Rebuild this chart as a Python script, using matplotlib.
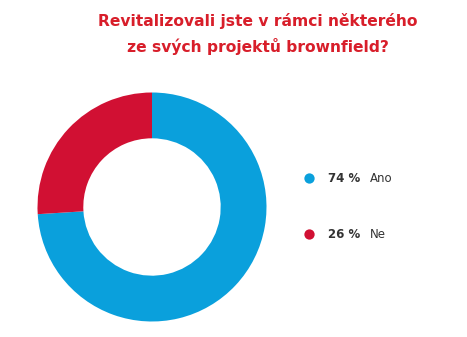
import matplotlib
matplotlib.use("Agg")
import matplotlib.pyplot as plt

labels = ["Ano", "Ne"]
shares = [74, 26]
colors = ["#0AA0DC", "#D11033"]
title = "Revitalizovali jste v rámci některého\nze svých projektů brownfield?"

W, H = 467, 337
fig = plt.figure(figsize=(W / 100, H / 100), dpi=100)
fig.patch.set_facecolor("white")

# donut
cx, cy, r = 152, 207, 114.5
ax = fig.add_axes([(cx - r) / W, 1 - (cy + r) / H, 2 * r / W, 2 * r / H])
ax.pie(shares, colors=colors, startangle=90, counterclock=False,
       radius=1, wedgeprops=dict(width=0.4, edgecolor="none"))
ax.set_xlim(-1, 1)
ax.set_ylim(-1, 1)
ax.set_aspect("equal")
ax.axis("off")

fig.text(258 / W, 1 - 34 / H, title, ha="center", va="center",
         fontsize=11.2, fontweight="bold", color="#D81E2A",
         family="DejaVu Sans", linespacing=1.65)

# legend
ov = fig.add_axes([0, 0, 1, 1], facecolor="none")
ov.set_xlim(0, W)
ov.set_ylim(H, 0)
ov.axis("off")
for i, (lab, val, col) in enumerate(zip(labels, shares, colors)):
    y = 178 + i * 56
    ov.scatter([309], [y], s=55, color=col, linewidths=0)
    ov.text(328, y, f"{val} %", ha="left", va="center", fontsize=8.5,
            fontweight="bold", color="#333333")
    ov.text(370, y, lab, ha="left", va="center", fontsize=8.5, color="#333333")

fig.savefig("out.png", dpi=100)
